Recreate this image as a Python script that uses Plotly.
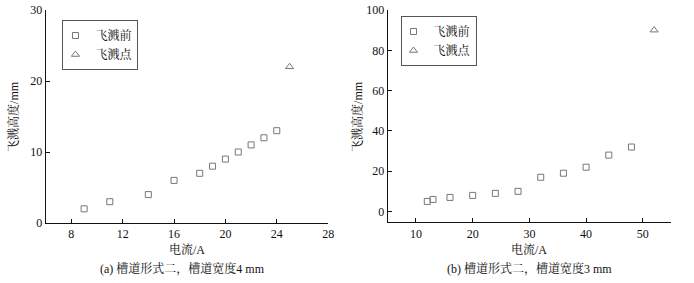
import plotly.graph_objects as go

# Panel (a)
a_before_x = [9, 11, 14, 16, 18, 19, 20, 21, 22, 23, 24]
a_before_y = [2, 3, 4, 6, 7, 8, 9, 10, 11, 12, 13]
a_point_x = [25]
a_point_y = [22]

# Panel (b)
b_before_x = [12, 13, 16, 20, 24, 28, 32, 36, 40, 44, 48]
b_before_y = [5, 6, 7, 8, 9, 10, 17, 19, 22, 28, 32]
b_point_x = [52]
b_point_y = [90]

name_before = "飞溅前"
name_point = "飞溅点"
x_title = "电流/A"
y_title = "飞溅高度/mm"
caption_a = "(a) 槽道形式二，槽道宽度4 mm"
caption_b = "(b) 槽道形式二，槽道宽度3 mm"

FONT = "Liberation Serif, 'Noto Serif CJK SC', 'Noto Sans CJK SC', serif"
GRAY = "#777777"
INK = "#111111"

fig = go.Figure()

def add(x, y, name, symbol, size, xa, ya, legend):
    fig.add_trace(go.Scatter(
        x=x, y=y, mode="markers", name=name,
        marker=dict(symbol=symbol, size=size, color=GRAY,
                    line=dict(color=GRAY, width=1)),
        xaxis=xa, yaxis=ya, legend=legend, showlegend=True))

add(a_before_x, a_before_y, name_before, "square-open", 6, "x", "y", "legend")
add(a_point_x, a_point_y, name_point, "triangle-up-open", 7, "x", "y", "legend")
add(b_before_x, b_before_y, name_before, "square-open", 6, "x2", "y2", "legend2")
add(b_point_x, b_point_y, name_point, "triangle-up-open", 7, "x2", "y2", "legend2")

axis_common = dict(showgrid=False, zeroline=False, showline=True, linecolor=INK,
                   linewidth=1, ticks="inside", ticklen=4, tickcolor=INK,
                   tickfont=dict(family=FONT, size=12, color=INK), mirror=False)

W, H = 694, 283
mt, mb = 10, 60
ph = H - mt - mb

leg_common = dict(xanchor="left", yanchor="top", bordercolor="#555", borderwidth=1,
                  bgcolor="white", font=dict(family=FONT, size=12, color=INK),
                  tracegroupgap=0, itemwidth=30, indentation=-8)

fig.update_layout(
    width=W, height=H,
    margin=dict(l=0, r=0, t=mt, b=mb),
    paper_bgcolor="white", plot_bgcolor="white",
    font=dict(family=FONT, size=12, color=INK),
    xaxis=dict(domain=[46 / W, 331 / W], range=[6, 28], dtick=4, tick0=0, anchor="y", **axis_common),
    yaxis=dict(domain=[0, 1], range=[0, 30], dtick=10, anchor="x", **axis_common),
    xaxis2=dict(domain=[391 / W, 677 / W], range=[5, 55], dtick=10, tick0=0, anchor="y2", **axis_common),
    yaxis2=dict(domain=[(222.5 - 221.7) / ph, 1], range=[-5.3, 100], dtick=20, anchor="x2", **axis_common),
    legend=dict(x=63 / W, y=1 - (20 - mt) / ph, **leg_common),
    legend2=dict(x=404 / W, y=1 - (16 - mt) / ph, **leg_common),
    showlegend=True,
)

def ann(text, x, y, rot=0, size=12):
    fig.add_annotation(text=text, x=x / W, y=1 - (y - mt) / ph, xref="paper", yref="paper",
                       showarrow=False, textangle=rot, xanchor="center", yanchor="middle",
                       font=dict(family=FONT, size=size, color=INK))

ann(y_title, 13, 116, rot=-90)
ann(y_title, 360, 116, rot=-90)
ann(x_title, 189, 249)
ann(x_title, 534, 249)
ann(caption_a, 184, 268)
ann(caption_b, 534, 268)

fig.write_html("out.html", config={"displayModeBar": False},
               post_script="document.body.style.margin='0';")
